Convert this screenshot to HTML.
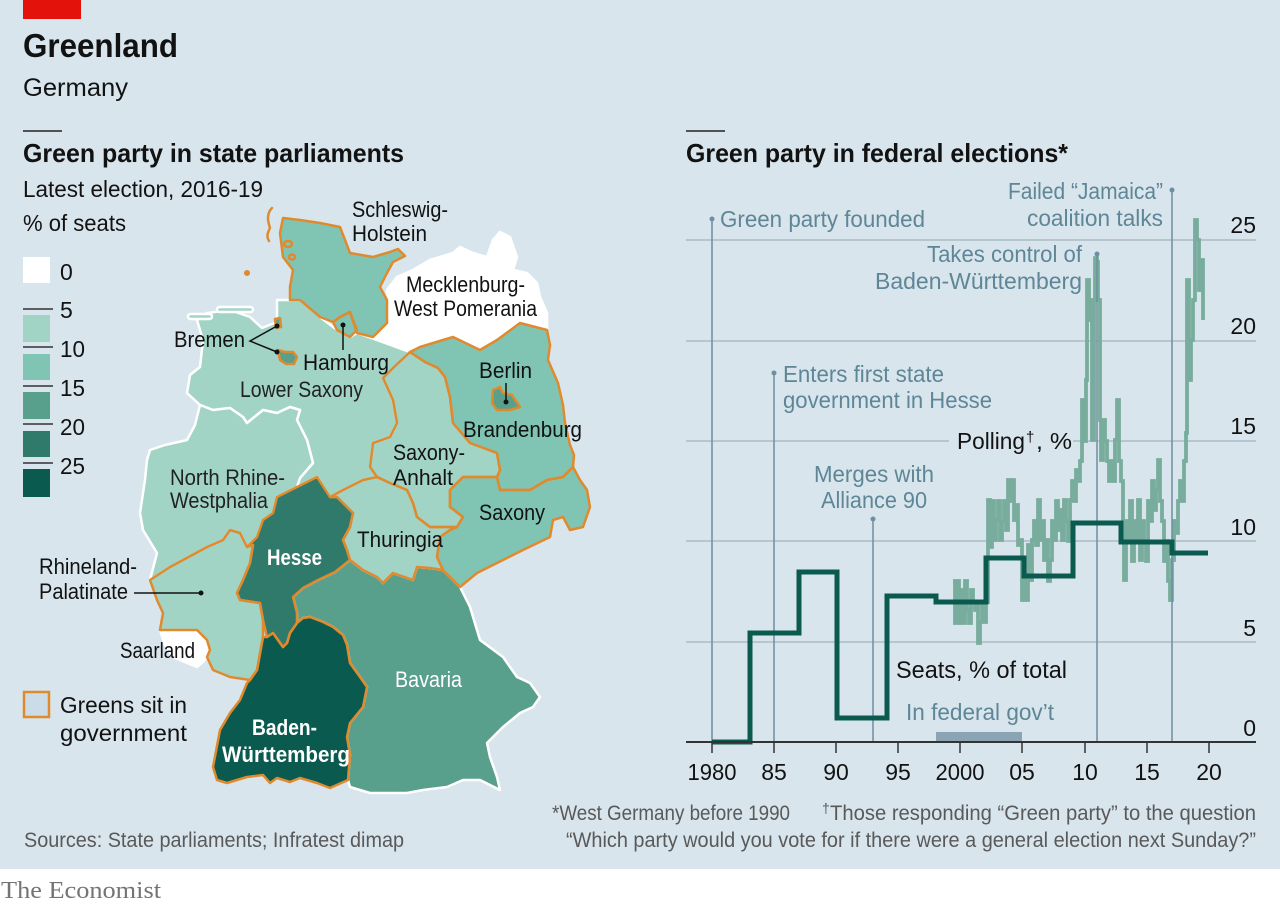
<!DOCTYPE html>
<html><head><meta charset="utf-8"><style>
html,body{margin:0;padding:0;background:#fff;}
svg{display:block;}
text{font-family:"Liberation Sans",sans-serif;}
</style></head><body>
<svg width="1280" height="906" viewBox="0 0 1280 906" xmlns="http://www.w3.org/2000/svg">
<rect x="0" y="0" width="1280" height="869" fill="#d8e5ed"/>
<rect x="0" y="869" width="1280" height="37" fill="#ffffff"/>
<rect x="23" y="0" width="58" height="19" fill="#e3120b"/>

<!-- Header -->
<text x="23" y="57" font-size="33" font-weight="bold" fill="#121212" textLength="155" lengthAdjust="spacingAndGlyphs">Greenland</text>
<text x="23" y="96" font-size="25" fill="#121212" textLength="105" lengthAdjust="spacingAndGlyphs">Germany</text>
<line x1="23" y1="131" x2="62" y2="131" stroke="#222" stroke-width="1.6"/>
<text x="23" y="162" font-size="26" font-weight="bold" fill="#121212" textLength="381" lengthAdjust="spacingAndGlyphs">Green party in state parliaments</text>
<text x="23" y="197" font-size="23.5" fill="#121212" textLength="240" lengthAdjust="spacingAndGlyphs">Latest election, 2016-19</text>
<text x="23" y="231" font-size="23.5" fill="#121212" textLength="103" lengthAdjust="spacingAndGlyphs">% of seats</text>

<line x1="686" y1="131" x2="725" y2="131" stroke="#222" stroke-width="1.6"/>
<text x="686" y="162" font-size="26" font-weight="bold" fill="#121212" textLength="382" lengthAdjust="spacingAndGlyphs">Green party in federal elections*</text>

<!-- Legend -->
<rect x="23" y="257" width="27" height="26" fill="#ffffff"/>
<rect x="23" y="315" width="27" height="27" fill="#a2d4c6"/>
<rect x="23" y="354" width="27" height="26" fill="#80c5b4"/>
<rect x="23" y="392" width="27" height="27" fill="#58a08c"/>
<rect x="23" y="431" width="27" height="26" fill="#2f7a6a"/>
<rect x="23" y="469" width="27" height="28" fill="#0a5a50"/>
<g stroke="#333" stroke-width="1.5">
<line x1="23" y1="309" x2="53" y2="309"/>
<line x1="23" y1="347" x2="53" y2="347"/>
<line x1="23" y1="386" x2="53" y2="386"/>
<line x1="23" y1="424" x2="53" y2="424"/>
<line x1="23" y1="463" x2="53" y2="463"/>
</g>
<g font-size="23" fill="#121212">
<text x="60" y="280">0</text>
<text x="60" y="318">5</text>
<text x="60" y="357" textLength="25" lengthAdjust="spacingAndGlyphs">10</text>
<text x="60" y="396" textLength="25" lengthAdjust="spacingAndGlyphs">15</text>
<text x="60" y="435" textLength="25" lengthAdjust="spacingAndGlyphs">20</text>
<text x="60" y="474" textLength="25" lengthAdjust="spacingAndGlyphs">25</text>
</g>
<rect x="24" y="692" width="25" height="25" fill="#c9dce7" stroke="#e08a2e" stroke-width="2.5"/>
<text x="60" y="713" font-size="23.5" fill="#121212" textLength="127" lengthAdjust="spacingAndGlyphs">Greens sit in</text>
<text x="60" y="741" font-size="23.5" fill="#121212" textLength="127" lengthAdjust="spacingAndGlyphs">government</text>

<!-- MAP -->
<g stroke-linejoin="round" stroke-linecap="round">
<g stroke="#ffffff" stroke-width="2.5">
<path fill="#a2d4c6" d="M290,300 L277,300 L277,322 L262,328 L250,317 L230,310 L207,313 L197,320 L203,340 L200,367 L190,375 L187,393 L200,405 L213,410 L230,408 L243,417 L247,423 L263,410 L277,413 L290,407 L300,410 L297,420 L307,440 L313,463 L300,478 L297,487 L317,477 L330,497 L343,490 L363,480 L377,477 L370,467 L373,443 L390,437 L397,423 L393,400 L383,378 L395,366 L410,352 L377,340 L357,333 L350,337 L333,327 L320,317 L300,300 Z"/>
<path fill="#a2d4c6" d="M187,440 L195,425 L200,405 L213,410 L230,408 L243,417 L247,423 L263,410 L277,413 L290,407 L300,410 L297,420 L307,440 L313,463 L300,478 L297,487 L277,497 L273,513 L263,520 L257,537 L247,547 L240,533 L230,530 L223,540 L207,547 L183,560 L170,567 L150,580 L157,553 L143,530 L140,513 L145,480 L147,460 L150,450 L165,445 Z"/>
<path fill="#ffffff" d="M387,290 L397,277 L413,270 L430,260 L453,253 L460,247 L473,253 L487,257 L493,240 L500,232 L510,237 L517,257 L513,270 L527,273 L537,283 L540,297 L547,313 L547,330 L520,323 L497,340 L480,350 L453,337 L443,340 L420,347 L410,352 L377,340 L373,337 L387,323 Z"/>
<path fill="#ffffff" d="M160,630 L170,630 L197,630 L207,640 L210,650 L207,657 L203,662 L197,667 L187,663 L173,657 L165,645 Z"/>
<path fill="#58a08c" d="M350,560 L363,570 L377,577 L383,583 L393,573 L413,580 L417,567 L430,568 L443,570 L453,580 L460,587 L463,593 L470,607 L480,640 L503,657 L517,677 L530,683 L540,697 L533,707 L520,713 L503,727 L487,743 L490,757 L497,777 L500,790 L480,780 L463,780 L447,787 L423,790 L407,793 L370,793 L350,787 L348,780 L350,755 L347,737 L350,723 L363,707 L367,687 L360,677 L350,663 L347,645 L343,635 L333,627 L323,622 L310,617 L303,618 L297,623 L297,613 L293,597 L303,588 L318,580 L335,572 Z"/>
<rect x="188" y="314" width="24" height="5" rx="2.5" fill="#a2d4c6"/>
<rect x="217" y="307" width="36" height="5" rx="2.5" fill="#a2d4c6"/>
</g>
<g stroke="none">
<path fill="#80c5b4" d="M283,218 L300,220 L320,223 L340,227 L345,240 L350,253 L373,257 L390,252 L398,249 L405,256 L393,262 L387,273 L380,287 L387,300 L387,323 L373,337 L357,333 L350,312 L340,317 L333,322 L320,317 L300,300 L290,300 L290,287 L293,270 L283,257 L280,233 Z"/>
<path fill="#80c5b4" d="M333,322 L340,317 L350,312 L353,320 L357,330 L350,337 L337,330 Z"/>
<path fill="#58a08c" d="M278,350 L285,352 L293,352 L297,357 L294,364 L286,364 L280,360 Z"/>
<path fill="#58a08c" d="M275,319 L280,318 L281,327 L276,328 Z"/>
<path fill="#80c5b4" d="M410,352 L420,347 L443,340 L453,337 L480,350 L497,340 L520,323 L547,330 L550,345 L548,360 L558,383 L563,405 L565,423 L570,445 L574,455 L573,467 L563,477 L547,480 L530,490 L500,490 L497,477 L500,470 L497,453 L470,443 L453,423 L450,397 L445,377 L438,368 L425,362 Z"/>
<path fill="#58a08c" d="M493,390 L500,387 L503,393 L512,395 L520,407 L510,410 L497,410 L492,403 Z"/>
<path fill="#a2d4c6" d="M383,378 L395,366 L410,352 L425,362 L438,368 L445,377 L450,397 L453,423 L470,443 L497,453 L500,470 L497,477 L463,477 L450,490 L450,507 L463,517 L457,527 L430,527 L417,517 L413,503 L407,490 L390,483 L377,477 L370,467 L373,443 L390,437 L397,423 L393,400 Z"/>
<path fill="#80c5b4" d="M450,490 L463,477 L497,477 L500,490 L530,490 L547,480 L563,477 L573,467 L580,480 L587,490 L590,507 L583,527 L570,530 L563,517 L553,520 L550,537 L523,550 L497,563 L477,573 L460,587 L453,580 L443,570 L437,557 L440,537 L450,530 L457,527 L463,517 L450,507 Z"/>
<path fill="#a2d4c6" d="M330,497 L343,490 L363,480 L377,477 L390,483 L407,490 L413,503 L417,517 L430,527 L457,527 L450,530 L440,537 L437,557 L443,570 L430,568 L417,567 L413,580 L393,573 L383,583 L377,577 L363,570 L350,560 L347,550 L343,540 L350,527 L353,513 L343,503 L337,497 Z"/>
<path fill="#2f7a6a" d="M297,487 L317,477 L330,497 L337,497 L343,503 L353,513 L350,527 L343,540 L347,550 L350,560 L335,572 L318,580 L303,588 L293,597 L297,613 L297,623 L290,633 L287,643 L283,647 L273,633 L267,637 L263,620 L260,603 L240,600 L237,593 L243,580 L250,563 L253,545 L247,547 L257,537 L263,520 L273,513 L277,497 Z"/>
<path fill="#a2d4c6" d="M150,580 L170,567 L183,560 L207,547 L223,540 L230,530 L240,533 L247,547 L253,545 L250,563 L243,580 L237,593 L240,600 L260,603 L263,620 L263,637 L257,670 L250,680 L230,677 L213,670 L207,657 L210,650 L207,640 L197,630 L170,630 L160,630 L163,613 L157,600 Z"/>
<path fill="#0a5a50" d="M297,623 L303,618 L310,617 L323,622 L333,627 L343,635 L347,645 L350,663 L360,677 L367,687 L363,707 L350,723 L347,737 L350,755 L348,780 L330,788 L317,783 L300,778 L290,782 L277,778 L270,783 L263,775 L247,777 L227,783 L217,780 L213,767 L220,730 L230,713 L240,700 L247,683 L250,680 L257,670 L263,637 L267,637 L273,633 L283,647 L287,643 L290,633 Z"/>
</g>
<g stroke="#e08a2e" stroke-width="2.5" fill="none">
<path d="M283,218 L300,220 L320,223 L340,227 L345,240 L350,253 L373,257 L390,252 L398,249 L405,256 L393,262 L387,273 L380,287 L387,300 L387,323 L373,337 L357,333 L350,312 L340,317 L333,322 L320,317 L300,300 L290,300 L290,287 L293,270 L283,257 L280,233 Z"/>
<path d="M333,322 L340,317 L350,312 L353,320 L357,330 L350,337 L337,330 Z"/>
<path d="M278,350 L285,352 L293,352 L297,357 L294,364 L286,364 L280,360 Z"/>
<path d="M275,319 L280,318 L281,327 L276,328 Z"/>
<path d="M410,352 L420,347 L443,340 L453,337 L480,350 L497,340 L520,323 L547,330 L550,345 L548,360 L558,383 L563,405 L565,423 L570,445 L574,455 L573,467 L563,477 L547,480 L530,490 L500,490 L497,477 L500,470 L497,453 L470,443 L453,423 L450,397 L445,377 L438,368 L425,362 Z"/>
<path d="M493,390 L500,387 L503,393 L512,395 L520,407 L510,410 L497,410 L492,403 Z"/>
<path d="M383,378 L395,366 L410,352 L425,362 L438,368 L445,377 L450,397 L453,423 L470,443 L497,453 L500,470 L497,477 L463,477 L450,490 L450,507 L463,517 L457,527 L430,527 L417,517 L413,503 L407,490 L390,483 L377,477 L370,467 L373,443 L390,437 L397,423 L393,400 Z"/>
<path d="M450,490 L463,477 L497,477 L500,490 L530,490 L547,480 L563,477 L573,467 L580,480 L587,490 L590,507 L583,527 L570,530 L563,517 L553,520 L550,537 L523,550 L497,563 L477,573 L460,587 L453,580 L443,570 L437,557 L440,537 L450,530 L457,527 L463,517 L450,507 Z"/>
<path d="M330,497 L343,490 L363,480 L377,477 L390,483 L407,490 L413,503 L417,517 L430,527 L457,527 L450,530 L440,537 L437,557 L443,570 L430,568 L417,567 L413,580 L393,573 L383,583 L377,577 L363,570 L350,560 L347,550 L343,540 L350,527 L353,513 L343,503 L337,497 Z"/>
<path d="M297,487 L317,477 L330,497 L337,497 L343,503 L353,513 L350,527 L343,540 L347,550 L350,560 L335,572 L318,580 L303,588 L293,597 L297,613 L297,623 L290,633 L287,643 L283,647 L273,633 L267,637 L263,620 L260,603 L240,600 L237,593 L243,580 L250,563 L253,545 L247,547 L257,537 L263,520 L273,513 L277,497 Z"/>
<path d="M150,580 L170,567 L183,560 L207,547 L223,540 L230,530 L240,533 L247,547 L253,545 L250,563 L243,580 L237,593 L240,600 L260,603 L263,620 L263,637 L257,670 L250,680 L230,677 L213,670 L207,657 L210,650 L207,640 L197,630 L170,630 L160,630 L163,613 L157,600 Z"/>
<path d="M297,623 L303,618 L310,617 L323,622 L333,627 L343,635 L347,645 L350,663 L360,677 L367,687 L363,707 L350,723 L347,737 L350,755 L348,780 L330,788 L317,783 L300,778 L290,782 L277,778 L270,783 L263,775 L247,777 L227,783 L217,780 L213,767 L220,730 L230,713 L240,700 L247,683 L250,680 L257,670 L263,637 L267,637 L273,633 L283,647 L287,643 L290,633 Z"/>
<path d="M272,208 C266,214 268,222 270,228 C268,232 266,236 269,241"/>
<ellipse cx="288" cy="244" rx="4" ry="3" fill="#80c5b4"/>
<ellipse cx="292" cy="257" rx="3" ry="2.5" fill="#80c5b4"/>
<circle cx="247" cy="273" r="1.8" fill="#e08a2e"/>
</g>
</g>

<!-- map labels -->
<g font-size="22" fill="#121212">
<text x="352" y="217" textLength="96" lengthAdjust="spacingAndGlyphs">Schleswig-</text>
<text x="352" y="241" textLength="75" lengthAdjust="spacingAndGlyphs">Holstein</text>
<text x="406" y="292" textLength="119" lengthAdjust="spacingAndGlyphs">Mecklenburg-</text>
<text x="394" y="316" textLength="143" lengthAdjust="spacingAndGlyphs">West Pomerania</text>
<text x="174" y="347" textLength="71" lengthAdjust="spacingAndGlyphs">Bremen</text>
<text x="303" y="370" textLength="86" lengthAdjust="spacingAndGlyphs">Hamburg</text>
<text x="240" y="397" textLength="123" lengthAdjust="spacingAndGlyphs" fill="#222">Lower Saxony</text>
<text x="479" y="378" textLength="53" lengthAdjust="spacingAndGlyphs">Berlin</text>
<text x="463" y="437" textLength="119" lengthAdjust="spacingAndGlyphs">Brandenburg</text>
<text x="393" y="460" textLength="72" lengthAdjust="spacingAndGlyphs">Saxony-</text>
<text x="393" y="485" textLength="60" lengthAdjust="spacingAndGlyphs">Anhalt</text>
<text x="170" y="485" textLength="115" lengthAdjust="spacingAndGlyphs" fill="#222">North Rhine-</text>
<text x="170" y="508" textLength="98" lengthAdjust="spacingAndGlyphs" fill="#222">Westphalia</text>
<text x="479" y="520" textLength="66" lengthAdjust="spacingAndGlyphs">Saxony</text>
<text x="357" y="547" textLength="86" lengthAdjust="spacingAndGlyphs">Thuringia</text>
<text x="39" y="574" textLength="98" lengthAdjust="spacingAndGlyphs">Rhineland-</text>
<text x="39" y="599" textLength="89" lengthAdjust="spacingAndGlyphs">Palatinate</text>
<text x="120" y="658" textLength="75" lengthAdjust="spacingAndGlyphs">Saarland</text>
</g>
<g font-size="22" fill="#ffffff">
<text x="267" y="565" font-weight="bold" textLength="55" lengthAdjust="spacingAndGlyphs">Hesse</text>
<text x="395" y="687" textLength="67" lengthAdjust="spacingAndGlyphs">Bavaria</text>
<text x="252" y="735" font-weight="bold" textLength="65" lengthAdjust="spacingAndGlyphs">Baden-</text>
<text x="222" y="762" font-weight="bold" textLength="128" lengthAdjust="spacingAndGlyphs">Württemberg</text>
</g>
<g stroke="#121212" stroke-width="1.5" fill="none">
<polyline points="277,326 250,341 277,352"/>
<line x1="343" y1="325" x2="343" y2="350"/>
<line x1="506" y1="383" x2="506" y2="402"/>
<line x1="134" y1="593" x2="201" y2="593"/>
</g>
<g fill="#121212">
<circle cx="277" cy="326" r="2.5"/><circle cx="277" cy="352" r="2.5"/>
<circle cx="343" cy="325" r="2.5"/><circle cx="506" cy="402" r="2.5"/>
<circle cx="201" cy="593" r="2.5"/>
</g>

<!-- CHART -->
<g stroke="#aabbc5" stroke-width="1.5">
<line x1="686" y1="240" x2="1256" y2="240"/>
<line x1="686" y1="341" x2="1256" y2="341"/>
<line x1="686" y1="441" x2="1256" y2="441"/>
<line x1="686" y1="541" x2="1256" y2="541"/>
<line x1="686" y1="642" x2="1256" y2="642"/>
</g>
<g font-size="23" fill="#121212" text-anchor="end">
<text x="1256" y="233">25</text>
<text x="1256" y="334">20</text>
<text x="1256" y="434">15</text>
<text x="1256" y="535">10</text>
<text x="1256" y="636">5</text>
<text x="1256" y="736">0</text>
</g>
<rect x="949" y="428" width="124" height="26" fill="#d8e5ed"/>
<text x="957" y="449" font-size="23" fill="#121212" textLength="68" lengthAdjust="spacingAndGlyphs">Polling</text>
<text x="1026" y="442" font-size="15" fill="#121212">†</text>
<text x="1036" y="449" font-size="23" fill="#121212" textLength="36" lengthAdjust="spacingAndGlyphs">, %</text>

<rect x="936" y="732" width="86" height="10" fill="#8aa4b4"/>

<!-- polling -->
<path fill="none" stroke="#78ac9c" stroke-width="3.8" stroke-linejoin="miter" d="M953,581 H955 V623 H957 V581 H959 V623 H961 V590 H963 V623 H965 V581 H967 V610 H969 V623 H971 V590 H973 V602 H975 V610 H977 V602 H978 V643 H980 V622 H982 V602 H984 V622 H986 V602 H988 V500 H990 V547 H992 V501 H994 V540 H996 V520 H998 V501 H1000 V540 H1002 V521 H1004 V501 H1006 V530 H1008 V480 H1010 V501 H1012 V480 H1014 V520 H1016 V505 H1018 V545 H1020 V540 H1022 V600 H1024 V561 H1026 V600 H1028 V545 H1030 V580 H1032 V540 H1034 V521 H1036 V545 H1038 V500 H1040 V540 H1042 V521 H1044 V560 H1046 V540 H1048 V581 H1050 V560 H1052 V521 H1054 V540 H1056 V501 H1058 V530 H1060 V510 H1062 V540 H1064 V500 H1066 V521 H1068 V541 H1070 V500 H1072 V481 H1074 V501 H1076 V470 H1078 V481 H1080 V461 H1082 V400 H1084 V441 H1086 V380 H1087 V280 H1089 V320 H1091 V300 H1092 V440 H1094 V300 H1095 V258 H1097 V262 H1098 V300 H1100 V420 H1101 V460 H1103 V420 H1105 V441 H1107 V461 H1109 V481 H1111 V461 H1113 V481 H1115 V440 H1117 V400 H1119 V461 H1121 V481 H1123 V541 H1124 V580 H1126 V521 H1128 V541 H1130 V501 H1132 V561 H1134 V521 H1136 V541 H1138 V500 H1140 V560 H1142 V521 H1144 V541 H1146 V561 H1148 V501 H1150 V521 H1152 V481 H1154 V510 H1156 V490 H1158 V460 H1160 V501 H1162 V521 H1164 V561 H1166 V541 H1168 V581 H1170 V600 H1172 V560 H1174 V521 H1176 V533 H1178 V501 H1180 V481 H1182 V501 H1184 V461 H1186 V433 H1187 V280 H1189 V380 H1191 V340 H1193 V300 H1195 V220 H1197 V240 H1199 V290 H1201 V260 H1203 V320"/>

<!-- annotation lines -->
<g stroke="#6e8fa0" stroke-width="1.5">
<line x1="712" y1="219" x2="712" y2="742"/>
<line x1="774" y1="373" x2="774" y2="742"/>
<line x1="873" y1="519" x2="873" y2="742"/>
<line x1="1097" y1="254" x2="1097" y2="742"/>
<line x1="1172" y1="190" x2="1172" y2="742"/>
</g>
<g fill="#6e8fa0">
<circle cx="712" cy="219" r="2.5"/><circle cx="774" cy="373" r="2.5"/>
<circle cx="873" cy="519" r="2.5"/><circle cx="1097" cy="254" r="2.5"/>
<circle cx="1172" cy="190" r="2.5"/>
</g>
<g font-size="23" fill="#5e8696">
<text x="720" y="227" textLength="205" lengthAdjust="spacingAndGlyphs">Green party founded</text>
<text x="1008" y="199" textLength="155" lengthAdjust="spacingAndGlyphs">Failed “Jamaica”</text>
<text x="1027" y="226" textLength="136" lengthAdjust="spacingAndGlyphs">coalition talks</text>
<text x="927" y="262" textLength="155" lengthAdjust="spacingAndGlyphs">Takes control of</text>
<text x="875" y="289" textLength="207" lengthAdjust="spacingAndGlyphs">Baden-Württemberg</text>
<text x="783" y="382" textLength="161" lengthAdjust="spacingAndGlyphs">Enters first state</text>
<text x="783" y="408" textLength="209" lengthAdjust="spacingAndGlyphs">government in Hesse</text>
<text x="814" y="482" textLength="120" lengthAdjust="spacingAndGlyphs">Merges with</text>
<text x="821" y="508" textLength="106" lengthAdjust="spacingAndGlyphs">Alliance 90</text>
<text x="906" y="720" textLength="148" lengthAdjust="spacingAndGlyphs">In federal gov’t</text>
</g>

<!-- seats -->
<path fill="none" stroke="#0b5a4f" stroke-width="5" stroke-linejoin="miter" d="M712,742 H750 V633 H799 V572 H837 V718 H887 V596 H936 V602 H986 V558 H1024 V576 H1073 V523 H1121 V542 H1172 V553 H1208"/>
<text x="896" y="678" font-size="24" fill="#121212" textLength="171" lengthAdjust="spacingAndGlyphs">Seats, % of total</text>

<!-- axis -->
<line x1="686" y1="742" x2="1256" y2="742" stroke="#333" stroke-width="2"/>
<g stroke="#333" stroke-width="1.5">
<line x1="712" y1="742" x2="712" y2="753"/>
<line x1="774" y1="742" x2="774" y2="753"/>
<line x1="836" y1="742" x2="836" y2="753"/>
<line x1="898" y1="742" x2="898" y2="753"/>
<line x1="960" y1="742" x2="960" y2="753"/>
<line x1="1022" y1="742" x2="1022" y2="753"/>
<line x1="1085" y1="742" x2="1085" y2="753"/>
<line x1="1147" y1="742" x2="1147" y2="753"/>
<line x1="1209" y1="742" x2="1209" y2="753"/>
</g>
<g font-size="23" fill="#121212" text-anchor="middle">
<text x="712" y="780" textLength="49" lengthAdjust="spacingAndGlyphs">1980</text>
<text x="774" y="780">85</text>
<text x="836" y="780">90</text>
<text x="898" y="780">95</text>
<text x="960" y="780" textLength="49" lengthAdjust="spacingAndGlyphs">2000</text>
<text x="1022" y="780">05</text>
<text x="1085" y="780">10</text>
<text x="1147" y="780">15</text>
<text x="1209" y="780">20</text>
</g>

<!-- footnotes -->
<g font-size="21" fill="#595959">
<text x="552" y="820" textLength="238" lengthAdjust="spacingAndGlyphs">*West Germany before 1990</text>
<text x="822" y="813" font-size="14">†</text>
<text x="830" y="820" textLength="426" lengthAdjust="spacingAndGlyphs">Those responding “Green party” to the question</text>
<text x="566" y="847" textLength="690" lengthAdjust="spacingAndGlyphs">“Which party would you vote for if there were a general election next Sunday?”</text>
<text x="24" y="847" textLength="380" lengthAdjust="spacingAndGlyphs">Sources: State parliaments; Infratest dimap</text>
</g>
<text x="1" y="898" style="font-family:'Liberation Serif',serif" font-size="24" fill="#747474" textLength="160" lengthAdjust="spacingAndGlyphs">The Economist</text>
</svg>
</body></html>
